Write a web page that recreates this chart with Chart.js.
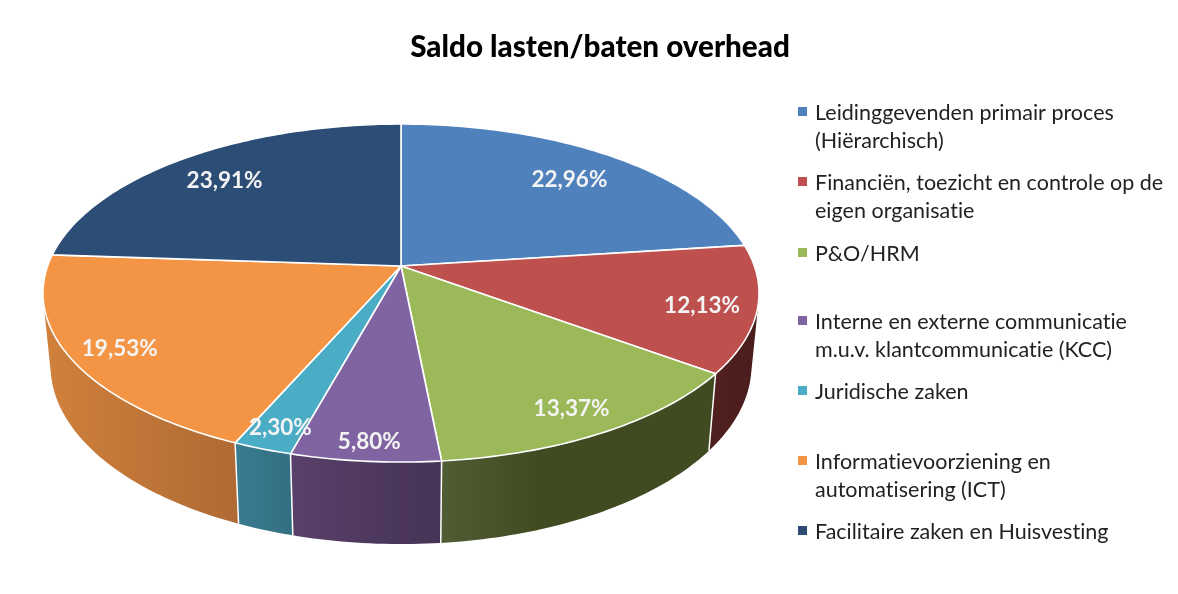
<!DOCTYPE html>
<html>
<head>
<meta charset="utf-8">
<title>Saldo lasten/baten overhead</title>
<script src="https://cdn.jsdelivr.net/npm/chart.js@4"></script>
<style>
	html, body { margin: 0; padding: 0; background: #fff; overflow: hidden; }
	canvas { display: block; filter: blur(0.4px); }
</style>
</head>
<body>
<canvas id="chart" width="1178" height="594"></canvas>
<script>
const titleText = 'Saldo lasten/baten overhead';
const categories = [
	'Leidinggevenden primair proces (Hiërarchisch)',
	'Financiën, toezicht en controle op de eigen organisatie',
	'P&O/HRM',
	'Interne en externe communicatie m.u.v. klantcommunicatie (KCC)',
	'Juridische zaken',
	'Informatievoorziening en automatisering (ICT)',
	'Facilitaire zaken en Huisvesting'
];
const values = [22.96, 12.13, 13.37, 5.80, 2.30, 19.53, 23.91];
const valueLabels = ['22,96%', '12,13%', '13,37%', '5,80%', '2,30%', '19,53%', '23,91%'];
const legendLines = [
	['Leidinggevenden primair proces', '(Hiërarchisch)'],
	['Financiën, toezicht en controle op de', 'eigen organisatie'],
	['P&O/HRM'],
	['Interne en externe communicatie', 'm.u.v. klantcommunicatie (KCC)'],
	['Juridische zaken'],
	['Informatievoorziening en', 'automatisering (ICT)'],
	['Facilitaire zaken en Huisvesting']
];

// styling
const topColors = ['#4f81bd', '#be504d', '#9bb959', '#8064a2', '#4bacc6', '#f49545', '#2c4d75'];
const wallStops = [
	[[0, '#3b618e'], [1, '#3b618e']],
	[[0, '#50201f'], [1, '#4a1d1d']],
	[[0, '#505c33'], [0.35, '#414b22'], [1, '#414b22']],
	[[0, '#59406a'], [1, '#463355']],
	[[0, '#3a7c90'], [1, '#336f82']],
	[[0, '#d0813c'], [1, '#b06a33']],
	[[0, '#213a58'], [1, '#213a58']]
];
const labelReach = [0.79, 0.85, 0.86, 0.9, 0.887, 0.864, 0.8];
const legendFirstY = [113, 183, 254, 322, 392, 462, 532];
const legendLineGap = 28;
const FONT = 'Lato, sans-serif';

// the tilted disc: a circle seen in perspective, apex at (cx, cy)
const disc = { cx: 401, cy: 266, rx: 353.4, ry: 164.7, k: 0.16 };

function project(theta, reach) {
	const u = Math.sin(theta) * reach;
	const v = Math.cos(theta) * reach;
	const w = 1 + disc.k * v;
	return { x: disc.cx + disc.rx * u / w, y: disc.cy - disc.ry * v / w };
}

// the lower rim sits below the upper one and is slightly narrower
function dropToBase(p) {
	return { x: disc.cx + 0.979 * (p.x - disc.cx), y: 451 + 1.057 * (p.y - 374) };
}

function rimPoints(start, end) {
	const count = Math.max(2, Math.ceil((end - start) / (Math.PI / 180)));
	const points = [];
	for (let i = 0; i <= count; i++) {
		points.push(project(start + (end - start) * i / count, 1));
	}
	return points;
}

function signedArea(quad) {
	let area = 0;
	quad.forEach((p, i) => {
		const q = quad[(i + 1) % quad.length];
		area += p.x * q.y - q.x * p.y;
	});
	return area;
}

function drawWall(ctx, arc, i) {
	const rim = rimPoints(arc.startAngle + Math.PI / 2, arc.endAngle + Math.PI / 2);
	const base = rim.map(dropToBase);
	const xs = rim.map(p => p.x);
	const grad = ctx.createLinearGradient(Math.min(...xs), 0, Math.max(...xs), 0);
	wallStops[i].forEach(s => grad.addColorStop(s[0], s[1]));
	// all quads in one path and wound the same way, so no seams and no holes
	ctx.beginPath();
	for (let j = 0; j < rim.length - 1; j++) {
		const quad = [rim[j], rim[j + 1], base[j + 1], base[j]];
		if (signedArea(quad) < 0) quad.reverse();
		ctx.moveTo(quad[0].x, quad[0].y);
		ctx.lineTo(quad[1].x, quad[1].y);
		ctx.lineTo(quad[2].x, quad[2].y);
		ctx.lineTo(quad[3].x, quad[3].y);
		ctx.closePath();
	}
	ctx.fillStyle = grad;
	ctx.fill();
}

function drawWallEdges(ctx, arcs) {
	ctx.strokeStyle = '#fff';
	ctx.lineWidth = 1.5;
	arcs.forEach(arc => {
		const top = project(arc.startAngle + Math.PI / 2, 1);
		const bottom = dropToBase(top);
		ctx.beginPath();
		ctx.moveTo(top.x, top.y);
		ctx.lineTo(bottom.x, bottom.y);
		ctx.stroke();
	});
}

function drawTop(ctx, arc, i) {
	const rim = rimPoints(arc.startAngle + Math.PI / 2, arc.endAngle + Math.PI / 2);
	ctx.beginPath();
	ctx.moveTo(disc.cx, disc.cy);
	rim.forEach(p => ctx.lineTo(p.x, p.y));
	ctx.closePath();
	ctx.fillStyle = topColors[i];
	ctx.fill();
	ctx.strokeStyle = '#fff';
	ctx.lineWidth = 1.6;
	ctx.lineJoin = 'round';
	ctx.stroke();
}

// draws the pie from the arcs Chart.js computed, seen through the tilt
const tiltedPie = {
	id: 'tiltedPie',
	beforeDatasetsDraw(chart) {
		const ctx = chart.ctx;
		const arcs = chart.getDatasetMeta(0).data;
		ctx.save();
		arcs.forEach((arc, i) => drawWall(ctx, arc, i));
		drawWallEdges(ctx, arcs);
		arcs.forEach((arc, i) => drawTop(ctx, arc, i));

		ctx.font = 'bold 22.5px ' + FONT;
		ctx.letterSpacing = '0.01px'; // keeps Lato from joining "ti" and friends
		ctx.fillStyle = '#f4f4f4';
		ctx.textAlign = 'center';
		ctx.textBaseline = 'middle';
		arcs.forEach((arc, i) => {
			const mid = (arc.startAngle + arc.endAngle) / 2 + Math.PI / 2;
			const p = project(mid, labelReach[i]);
			ctx.fillText(valueLabels[i], p.x, p.y + 3);
		});
		ctx.restore();
		return false;
	},
	afterDraw(chart) {
		const ctx = chart.ctx;
		ctx.save();
		ctx.fillStyle = '#000';
		ctx.font = '900 29.6px ' + FONT;
		ctx.letterSpacing = '0.01px';
		ctx.textAlign = 'center';
		ctx.textBaseline = 'middle';
		ctx.fillText(titleText, 600, 47);

		ctx.textAlign = 'left';
		ctx.font = '21.5px ' + FONT;
		legendLines.forEach((lines, i) => {
			ctx.fillStyle = topColors[i];
			ctx.fillRect(798, legendFirstY[i] - 6, 9, 9);
			ctx.fillStyle = '#222';
			lines.forEach((line, j) => {
				ctx.fillText(line, 815, legendFirstY[i] + j * legendLineGap);
			});
		});
		ctx.restore();
	}
};

new Chart(document.getElementById('chart'), {
	type: 'pie',
	data: {
		labels: categories,
		datasets: [{ data: values, backgroundColor: topColors }]
	},
	options: {
		responsive: false,
		animation: false,
		events: [],
		plugins: {
			legend: { display: false },
			title: { display: false },
			tooltip: { enabled: false }
		}
	},
	plugins: [tiltedPie]
});
</script>
</body>
</html>
